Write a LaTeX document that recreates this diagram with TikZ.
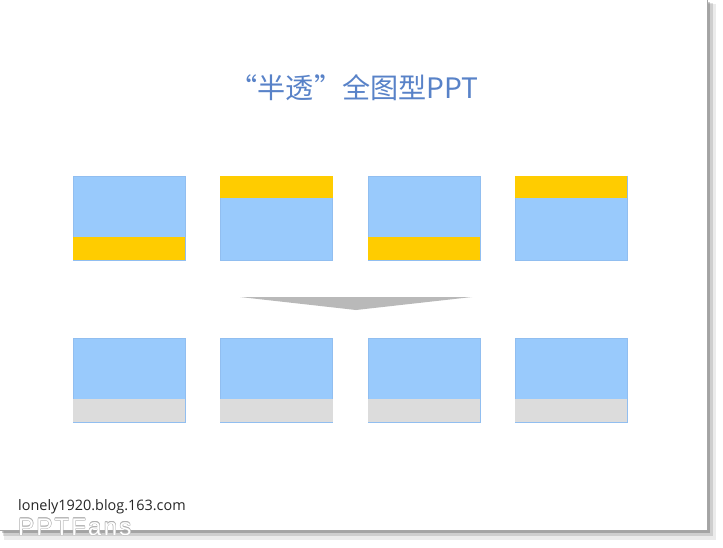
\documentclass[tikz,border=0pt]{standalone}
\usepackage{fontspec}
\setmainfont{Open Sans}
\newfontfamily\cjkfont{Noto Sans CJK SC}
\newfontfamily\markfont[LetterSpace=9]{Liberation Sans}
\usepackage{tikz}
\usetikzlibrary{positioning}
\usepackage{xcolor}
\definecolor{paneblue}{RGB}{153,202,252}
\definecolor{paneedge}{RGB}{145,190,240}
\definecolor{bandyellow}{RGB}{255,204,0}
\definecolor{bandgray}{RGB}{220,220,220}
\definecolor{titleblue}{RGB}{88,130,200}
\definecolor{arrowgray}{RGB}{185,185,185}

\begin{document}
\begin{tikzpicture}[x=0.03cm,y=-0.03cm,
    pane/.style={draw=paneedge,fill=paneblue,line width=0.4pt,
      minimum width=3.36cm,minimum height=2.52cm,inner sep=0pt}]
        \useasboundingbox (0,0) rectangle (723,547);
        \fill[white] (0,0) rectangle (723,547);
        % shadow of the slide
        \fill[black,opacity=0.08] (4,4) rectangle (716,540);
        \fill[black,opacity=0.12] (3,3) rectangle (713,536);
        \fill[black,opacity=0.2] (2,2) rectangle (710,533);
        \fill[white] (0,0) rectangle (707,530);
        \draw[gray!70,line width=0.6pt] (707,0) -- (707,530) -- (0,530);
        % title
        \node[text=titleblue,font=\cjkfont\fontsize{24}{28}\selectfont] (title) at (354,88) {“半透”全图型PPT};
        % top row
        \node[pane] (a1) at (129,218) {};
        \node[pane] (a2) at (276.5,218) {};
        \node[pane] (a3) at (424,218) {};
        \node[pane] (a4) at (571,218) {};
        \fill[bandyellow] (a1.south west) rectangle ([yshift=0.69cm]a1.south east);
        \fill[bandyellow] (a2.north west) rectangle ([yshift=-0.66cm]a2.north east);
        \fill[bandyellow] (a3.south west) rectangle ([yshift=0.69cm]a3.south east);
        \fill[bandyellow] (a4.north west) rectangle ([yshift=-0.66cm]a4.north east);
        % arrow
        \fill[arrowgray] (240,297) -- (472,297) -- (356,310) -- cycle;
        % bottom row
        \node[pane] (b1) at (129,380) {};
        \node[pane] (b2) at (276.5,380) {};
        \node[pane] (b3) at (424,380) {};
        \node[pane] (b4) at (571,380) {};
        \fill[bandgray] (b1.south west) rectangle ([yshift=0.69cm]b1.south east);
        \fill[bandgray] (b2.south west) rectangle ([yshift=0.69cm]b2.south east);
        \fill[bandgray] (b3.south west) rectangle ([yshift=0.69cm]b3.south east);
        \fill[bandgray] (b4.south west) rectangle ([yshift=0.69cm]b4.south east);
        % watermark
        \node[anchor=west,inner sep=0pt,text=black!85,font=\fontsize{12.3}{14}\selectfont] (blog) at (18,507) {lonely1920.blog.163.com};
        \foreach \dx/\dy in {-0.35/0,0.35/0,0/-0.35,0/0.35,-0.25/-0.25,0.25/0.25,-0.25/0.25,0.25/-0.25}
          \node[anchor=west,inner sep=0pt,text=gray!60,font=\markfont\fontsize{20.5}{24}\selectfont] at ([xshift=\dx pt,yshift=\dy pt]18,527) {PPTFans};
        \node[anchor=west,inner sep=0pt,text=white,font=\markfont\fontsize{20.5}{24}\selectfont] (mark) at (18,527) {PPTFans};
      \end{tikzpicture}
\end{document}
